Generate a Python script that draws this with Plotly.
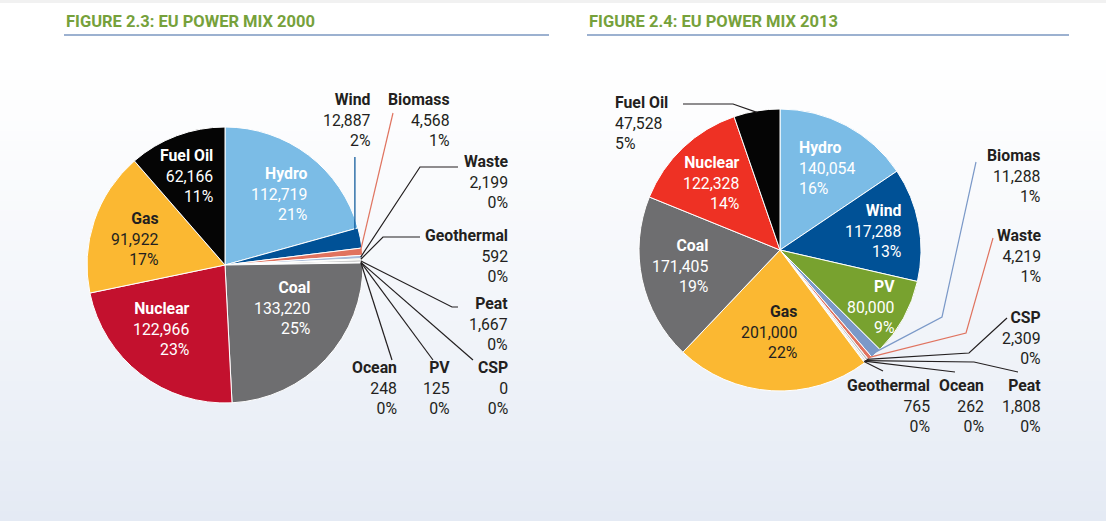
import math
import plotly.graph_objects as go

W, H = 1106, 521

# ---------------- data ----------------
labels_2000 = ["Hydro", "Wind", "Biomass", "Waste", "Geothermal", "Peat", "CSP", "PV", "Ocean",
               "Coal", "Nuclear", "Gas", "Fuel Oil"]
values_2000 = [112719, 12887, 4568, 2199, 592, 1667, 0, 125, 248, 133220, 122966, 91922, 62166]
pct_2000 = ["21%", "2%", "1%", "0%", "0%", "0%", "0%", "0%", "0%", "25%", "23%", "17%", "11%"]

labels_2013 = ["Hydro", "Wind", "PV", "Biomas", "Waste", "CSP", "Peat", "Ocean", "Geothermal",
               "Gas", "Coal", "Nuclear", "Fuel Oil"]
values_2013 = [140054, 117288, 80000, 11288, 4219, 2309, 1808, 262, 765, 201000, 171405, 122328, 47528]
pct_2013 = ["16%", "13%", "9%", "1%", "1%", "0%", "0%", "0%", "0%", "22%", "19%", "14%", "5%"]

title_2000 = "FIGURE 2.3: EU POWER MIX 2000"
title_2013 = "FIGURE 2.4: EU POWER MIX 2013"

# ---------------- style ----------------
col = {
    "Hydro": "#7bbce6", "Wind": "#005196", "Coal": "#6e6e70", "Gas": "#fbb832",
    "Fuel Oil": "#050505", "PV": "#78a22f",
}
colors_2000 = [col["Hydro"], col["Wind"], "#e0735f", "#a9bcd9", "#9cc35b", "#cfcfcf", "#f0a0a0",
               "#78a22f", "#5b7fb5", col["Coal"], "#c3112e", col["Gas"], col["Fuel Oil"]]
colors_2013 = [col["Hydro"], col["Wind"], col["PV"], "#7b99c8", "#e0735f", "#bfbfbf", "#d9d9d9",
               "#5b7fb5", "#9cc35b", col["Gas"], col["Coal"], "#ee3124", col["Fuel Oil"]]

DARK = "#231f20"
FONT = "Roboto, 'Liberation Sans', sans-serif"
FS = 15.8

# pie geometry (pixels)
C1, R1 = (225, 265), 138
C2, R2 = (780, 250), 141


def X(px):
    return px / W


def Y(py):
    return 1 - py / H


def domain(c, r):
    return dict(x=[X(c[0] - r), X(c[0] + r)], y=[Y(c[1] + r), Y(c[1] - r)])


def mid_point(values, i, c, r, frac=1.0):
    tot = sum(values)
    start = sum(values[:i]) / tot
    mid = (start + values[i] / tot / 2) * 2 * math.pi
    return (c[0] + r * frac * math.sin(mid), c[1] - r * frac * math.cos(mid))


fig = go.Figure()
for labels, values, colors, c, r in [(labels_2000, values_2000, colors_2000, C1, R1),
                                     (labels_2013, values_2013, colors_2013, C2, R2)]:
    fig.add_trace(go.Pie(
        labels=labels, values=values, sort=False, direction="clockwise", rotation=0,
        marker=dict(colors=colors, line=dict(color="white", width=1)),
        textinfo="none", domain=domain(c, r), showlegend=False, hoverinfo="label+value+percent",
    ))

shapes = []
annotations = []

# background gradient
NB = 48
y0g = 40
for k in range(NB):
    ya = y0g + (H - y0g) * k / NB
    yb = y0g + (H - y0g) * (k + 1) / NB + 0.5
    t = ((k + 0.5) / NB) ** 1.3
    rr = round(255 - 27 * t)
    gg = round(255 - 21 * t)
    bb = round(255 - 11 * t)
    shapes.append(dict(type="rect", xref="paper", yref="paper", x0=0, x1=1, y0=Y(yb), y1=Y(ya),
                       fillcolor=f"rgb({rr},{gg},{bb})", line=dict(width=0), layer="below"))
shapes.append(dict(type="rect", xref="paper", yref="paper", x0=0, x1=1, y0=Y(3), y1=1,
                   fillcolor="#f1f1f1", line=dict(width=0), layer="below"))

# titles
for txt, x, lx0, lx1 in [(title_2000, 65, 64, 549), (title_2013, 588, 587, 1069)]:
    annotations.append(dict(text=f"<b>{txt}</b>", x=X(x), y=Y(21.5), xref="paper", yref="paper",
                            xanchor="left", yanchor="middle", showarrow=False,
                            font=dict(family=FONT, size=16.5, color="#76a13b"), borderpad=0))
    shapes.append(dict(type="line", xref="paper", yref="paper", x0=X(lx0), x1=X(lx1), y0=Y(35), y1=Y(35),
                       line=dict(color="#7b97c0", width=1.5)))


def label_text(name, v, p):
    return f"<b>{name}</b><br>{v:,}<br>{p}"


# label placement: name -> (x px, middle-line y px, align, color)
pos_2000 = {
    "Hydro": (308, 194, "right", "white"),
    "Fuel Oil": (214, 176, "right", "white"),
    "Gas": (160, 239, "right", DARK),
    "Nuclear": (191, 329, "right", "white"),
    "Coal": (311, 308, "right", "white"),
    "Wind": (372, 120, "right", DARK),
    "Biomass": (451, 120, "right", DARK),
    "Waste": (509, 182, "right", DARK),
    "Geothermal": (509, 256, "right", DARK),
    "Peat": (509, 324, "right", DARK),
    "Ocean": (398, 388, "right", DARK),
    "PV": (451, 388, "right", DARK),
    "CSP": (509, 388, "right", DARK),
}
pos_2013 = {
    "Hydro": (798, 168, "left", "white"),
    "Wind": (902, 231, "right", "white"),
    "PV": (896, 307, "right", "white"),
    "Biomas": (1042, 176, "right", DARK),
    "Waste": (1042, 256, "right", DARK),
    "CSP": (1042, 338, "right", DARK),
    "Peat": (1042, 406, "right", DARK),
    "Ocean": (985, 406, "right", DARK),
    "Geothermal": (931, 406, "right", DARK),
    "Gas": (798, 332, "right", DARK),
    "Coal": (709, 266, "right", "white"),
    "Nuclear": (741, 183, "right", "white"),
    "Fuel Oil": (614, 123, "left", DARK),
}

for labels, values, pcts, pos in [(labels_2000, values_2000, pct_2000, pos_2000),
                                  (labels_2013, values_2013, pct_2013, pos_2013)]:
    for name, v, p in zip(labels, values, pcts):
        x, y, al, cl = pos[name]
        annotations.append(dict(text=label_text(name, v, p), x=X(x), y=Y(y), xref="paper", yref="paper",
                                xanchor=al, yanchor="middle", align=al, showarrow=False, borderpad=0,
                                font=dict(family=FONT, size=FS, color=cl)))

# leader lines: outer waypoints (pixels) -> slice anchor computed from the data
lead_2000 = {
    "Wind": ("vertical", 157, "#005196"),
    "Biomass": ([(393, 113)], "#e0735f"),
    "Waste": ([(458, 167), (420, 167)], DARK),
    "Geothermal": ([(420, 237), (383, 237)], DARK),
    "Peat": ([(458, 307), (452, 307)], DARK),
    "CSP": ([(473, 360)], DARK),
    "PV": ([(433, 360)], DARK),
    "Ocean": ([(392, 360)], DARK),
}
lead_2013 = {
    "Fuel Oil": ([(683, 104), (733, 104)], DARK),
    "Biomas": ([(976, 162), (942, 317)], "#7b99c8"),
    "Waste": ([(993, 238), (966, 333)], "#e0735f"),
    "CSP": ([(1007, 318), (969, 353)], DARK),
    "Peat": ([(1018, 372), (974, 362)], DARK),
    "Ocean": ([(955, 372)], DARK),
    "Geothermal": ([(883, 371)], DARK),
}


def add_path(pts, color):
    d = "M " + " L ".join(f"{X(px):.5f},{Y(py):.5f}" for px, py in pts)
    shapes.append(dict(type="path", xref="paper", yref="paper", path=d,
                       line=dict(color=color, width=1.2)))


for labels, values, c, r, lead, frac in [(labels_2000, values_2000, C1, R1, lead_2000, 0.985),
                                         (labels_2013, values_2013, C2, R2, lead_2013, 0.99)]:
    for name, spec in lead.items():
        i = labels.index(name)
        ax, ay = mid_point(values, i, c, r, frac)
        if spec[0] == "vertical":
            ax, ay = mid_point(values, i, c, r, 0.96)
            add_path([(ax, spec[1]), (ax, ay)], spec[2])
        else:
            pts, colr = spec
            add_path(list(pts) + [(ax, ay)], colr)

fig.update_layout(
    width=W, height=H, margin=dict(l=0, r=0, t=0, b=0),
    paper_bgcolor="white", plot_bgcolor="white",
    shapes=shapes, annotations=annotations,
    font=dict(family=FONT, color=DARK),
)

fig.write_html("out.html")
